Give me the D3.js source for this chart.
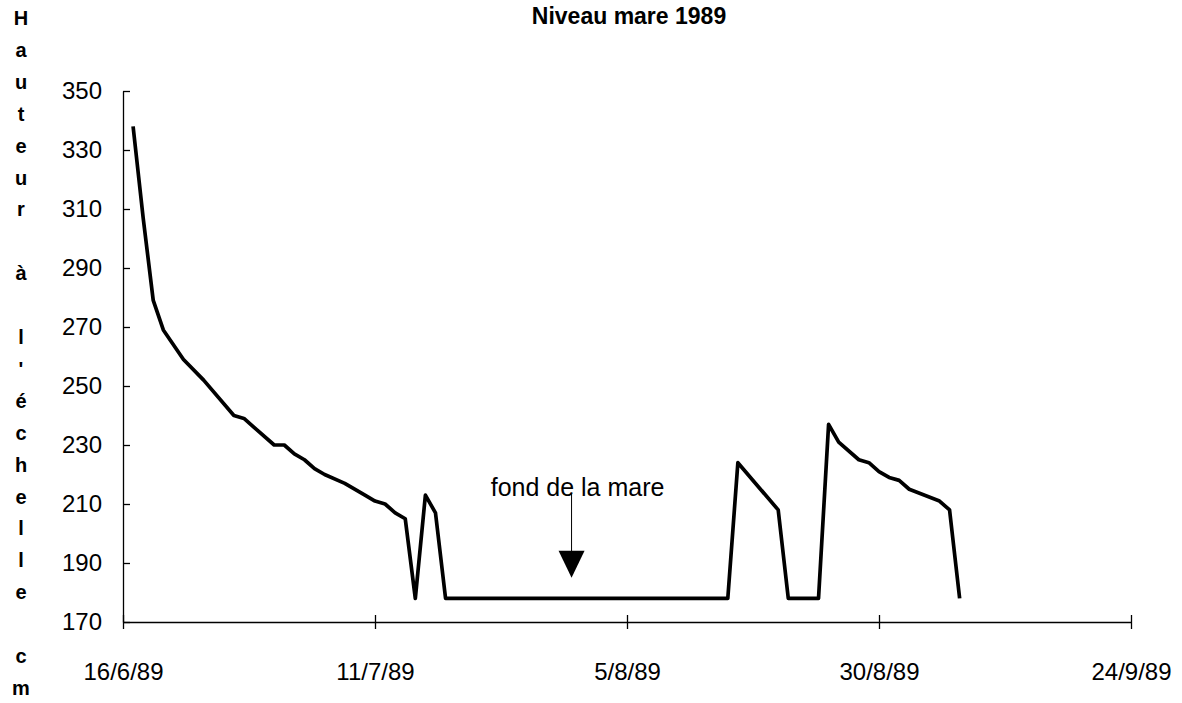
<!DOCTYPE html>
<html>
<head>
<meta charset="utf-8">
<script src="https://cdn.jsdelivr.net/npm/d3@7"></script>
<style>
  body { margin: 0; background: #fff; }
  text { font-family: "Liberation Sans", Arial, sans-serif; fill: #000; }
</style>
</head>
<body>
<div id="chart"></div>
<script>
var width = 1182;
var height = 703;

// data
var dates = ["17/6/89", "18/6/89", "19/6/89", "20/6/89", "22/6/89", "24/6/89", "27/6/89", "28/6/89",
  "29/6/89", "1/7/89", "2/7/89", "3/7/89", "4/7/89", "5/7/89", "6/7/89", "8/7/89", "10/7/89",
  "11/7/89", "12/7/89", "13/7/89", "14/7/89", "15/7/89", "16/7/89", "17/7/89", "18/7/89",
  "15/8/89", "16/8/89", "20/8/89", "21/8/89", "24/8/89", "25/8/89", "26/8/89", "28/8/89",
  "29/8/89", "30/8/89", "31/8/89", "1/9/89", "2/9/89", "5/9/89", "6/9/89", "7/9/89"];
var levels = [338, 307, 279, 269, 259, 252, 240, 239,
  236, 230, 230, 227, 225, 222, 220, 217, 213,
  211, 210, 207, 205, 178, 213, 207, 178,
  178, 224, 208, 178, 178, 237, 231, 225,
  224, 221, 219, 218, 215, 211, 208, 178];
var xTicks = ["16/6/89", "11/7/89", "5/8/89", "30/8/89", "24/9/89"];
var yTicks = [170, 190, 210, 230, 250, 270, 290, 310, 330, 350];
var yTitle = ["H", "a", "u", "t", "e", "u", "r", "", "à", "", "l", "'", "é", "c", "h", "e", "l", "l", "e", "", "c", "m"];
var note = { text: "fond de la mare", date: "30/7/89", value: 185 };

var parse = d3.timeParse("%d/%m/%y");
var fmt = d3.timeFormat("%-d/%-m/%y");

var data = dates.map(function(d, i) { return { date: parse(d), level: levels[i] }; });

var svg = d3.select("#chart").append("svg")
  .attr("width", width)
  .attr("height", height);

var xScale = d3.scaleTime().domain([parse(xTicks[0]), parse(xTicks[xTicks.length - 1])]).range([123, 1131]);
var yScale = d3.scaleLinear().domain([170, 350]).range([622, 91]);

// title
svg.append("text")
  .attr("x", 629).attr("y", 24)
  .attr("text-anchor", "middle")
  .style("font-size", "23px").style("font-weight", "bold")
  .text("Niveau mare 1989");

// x axis
var xAxis = d3.axisBottom(xScale)
  .tickValues(xTicks.map(parse))
  .tickFormat(fmt)
  .tickSizeInner(7).tickSizeOuter(0).tickPadding(34);
var gx = svg.append("g").attr("transform", "translate(0,622)").call(xAxis);
gx.select(".domain").attr("stroke", "#000").attr("stroke-width", 1.3);
gx.selectAll(".tick line").attr("y1", -7).attr("stroke-width", 1.3);
gx.selectAll(".tick text").style("font-size", "24px").attr("dy", "0.71em");

// y axis
var yAxis = d3.axisLeft(yScale)
  .tickValues(yTicks)
  .tickSizeInner(7).tickSizeOuter(0).tickPadding(14);
var gy = svg.append("g").attr("transform", "translate(123,0)").call(yAxis);
gy.select(".domain").attr("stroke", "#000").attr("stroke-width", 1.3);
gy.selectAll(".tick line").attr("x2", 7).attr("stroke-width", 1.3);
gy.selectAll(".tick text").style("font-size", "24px");

// stacked y axis title
svg.append("g").selectAll("text")
  .data(yTitle)
  .enter()
  .append("text")
  .attr("x", 21)
  .attr("y", function(d, i) { return 25 + i * 31.9; })
  .attr("text-anchor", "middle")
  .style("font-size", "20px").style("font-weight", "bold")
  .text(function(d) { return d; });

// level line
var line = d3.line()
  .x(function(d) { return xScale(d.date); })
  .y(function(d) { return yScale(d.level); });

svg.append("path")
  .datum(data)
  .attr("fill", "none")
  .attr("stroke", "#000")
  .attr("stroke-width", 3.7)
  .attr("stroke-linejoin", "round")
  .attr("d", line);

// annotation "fond de la mare"
var ax = xScale(d3.timeHour.offset(parse(note.date), 12));
var tipY = yScale(note.value);
svg.append("text")
  .attr("x", ax + 6).attr("y", 496)
  .attr("text-anchor", "middle")
  .style("font-size", "25px")
  .text(note.text);
svg.append("line")
  .attr("x1", ax).attr("x2", ax)
  .attr("y1", 493).attr("y2", tipY - 26)
  .attr("stroke", "#000").attr("stroke-width", 1);
svg.append("path")
  .attr("d", "M" + (ax - 13) + "," + (tipY - 27) + "L" + (ax + 13) + "," + (tipY - 27) + "L" + ax + "," + tipY + "Z")
  .attr("fill", "#000");
</script>
</body>
</html>
